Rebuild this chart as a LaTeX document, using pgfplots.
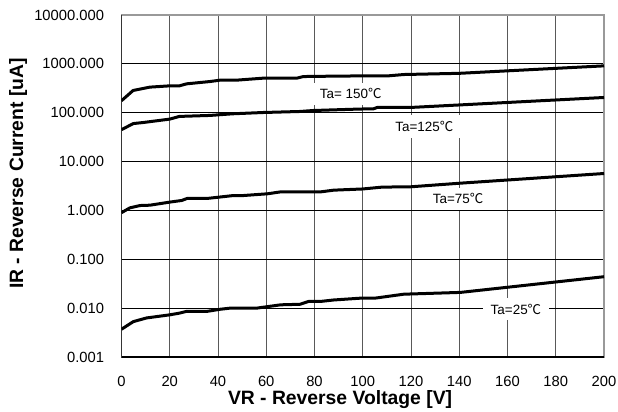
\documentclass[border=0pt]{standalone}
\usepackage{fontspec}
\setmainfont{Liberation Sans}
\newfontfamily\cjk{Noto Sans CJK KR}
\usepackage{pgfplots}
\pgfplotsset{compat=1.18}
\newcommand{\degC}{{\cjk ℃}}
\tikzset{curve/.style={black, no markers, line width=3bp, line join=round}}

\begin{document}
\begin{tikzpicture}
\begin{axis}[
    scale only axis,
    width=482.5bp, height=342bp,
    ymode=log,
    xmin=0, xmax=200, ymin=0.001, ymax=10000,
    xtick={0,20,...,200},
    ytick={0.001,0.01,0.1,1,10,100,1000,10000},
    yticklabels={0.001,0.010,0.100,1.000,10.000,100.000,1000.000,10000.000},
    yminorticks=false,
    major tick length=0pt,
    /pgf/number format/assume math mode=true,
    grid=major,
    major x grid style={draw=black!65, line width=0.9bp},
    major y grid style={draw=black, line width=0.9bp},
    axis line style={draw=black!40, line width=1.5bp},
    tick label style={font=\fontsize{14.8}{16}\selectfont},
    xticklabel style={yshift=-16bp},
    yticklabel style={xshift=-14bp},
    label style={font=\fontsize{19.4}{22}\selectfont\bfseries},
    xlabel={VR - Reverse Voltage [V]},
    ylabel={IR - Reverse Current [uA]},
    xlabel style={at={(axis description cs:0.453,-0.123)}, anchor=center},
    ylabel style={at={(axis description cs:-0.2145,0.5365)}, anchor=center},
]
% Ta = 150 C
\addplot[curve] coordinates {
(0,176) (4.8,285) (11.8,334) (20,355) (24,355) (27,390) (36.7,435) (41,465)
(48,465) (58.8,510) (72.7,510) (75.4,550) (85,558) (96,565) (110,565)
(117,605) (140,640) (200,910)
};
% Ta = 125 C
\addplot[curve] coordinates {
(0,45) (4.9,60) (9,63) (20,74) (24,84) (36.7,88) (46,95) (58.7,101)
(74,106) (79.5,111) (99,119) (104.4,120) (106,128) (119.7,128) (200,205)
};
% Ta = 75 C
\addplot[curve] coordinates {
(0,0.9) (3.5,1.13) (7.7,1.26) (11.8,1.28) (20,1.48) (25,1.6) (27.2,1.76)
(35.5,1.76) (46.5,2.02) (50.6,2.02) (60.5,2.19) (66,2.4) (82.6,2.4)
(88,2.6) (100,2.75) (108,3.0) (120,3.05) (140,3.6) (200,5.7)
};
% Ta = 25 C
\addplot[curve] coordinates {
(0,0.0037) (4.9,0.0053) (10.4,0.0063) (20,0.0073) (24,0.0079) (27,0.0086)
(35.5,0.0086) (41,0.0095) (45,0.010) (56,0.010) (66,0.0117) (74,0.012)
(77.5,0.0137) (82.4,0.0137) (88,0.0147) (99,0.016) (105,0.016) (117,0.0193)
(140.5,0.021) (200,0.044)
};
\begin{scope}[every node/.style={fill=white, inner xsep=8bp, inner ysep=6bp,
    font=\fontsize{13.5}{15}\selectfont}]
\node at (axis cs:95,244) {Ta= 150\degC};
\node at (axis cs:125.5,51.8) {Ta=125\degC};
\node at (axis cs:139.5,1.72) {Ta=75\degC};
\node at (axis cs:163.5,0.0095) {Ta=25\degC};
\end{scope}
\draw[black, line width=2bp] (rel axis cs:0,1) -- (rel axis cs:0,0) -- (rel axis cs:1,0);
\end{axis}
\pgfresetboundingbox
\path ([xshift=-121.5bp,yshift=-55bp]current axis.south west) rectangle ([xshift=14bp,yshift=15bp]current axis.north east);
\end{tikzpicture}
\end{document}
